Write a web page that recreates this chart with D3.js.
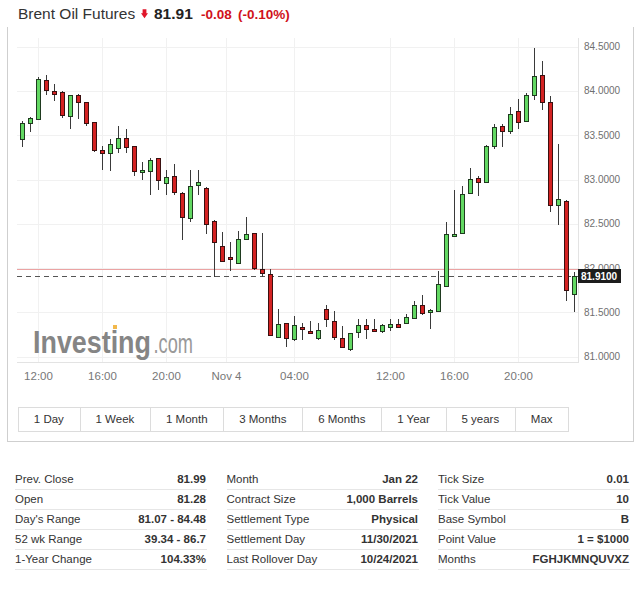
<!DOCTYPE html>
<html>
<head>
<meta charset="utf-8">
<script src="https://cdn.jsdelivr.net/npm/d3@7"></script>
<style>
  html, body { margin: 0; padding: 0; background: #fff; }
  svg { display: block; font-family: "Liberation Sans", Arial, sans-serif; }
</style>
</head>
<body>
<svg id="chart" width="640" height="591"></svg>
<script>
// ---------------- DATA ----------------
const times = [
  "11-03 11:00","11-03 11:30","11-03 12:00","11-03 12:30","11-03 13:00","11-03 13:30","11-03 14:00","11-03 14:30",
  "11-03 15:00","11-03 15:30","11-03 16:00","11-03 16:30","11-03 17:00","11-03 17:30","11-03 18:00","11-03 18:30",
  "11-03 19:00","11-03 19:30","11-03 20:00","11-03 20:30","11-03 21:00","11-03 21:30","11-03 22:00","11-03 22:30",
  "11-03 23:00","11-03 23:30",
  "11-04 00:00","11-04 00:30","11-04 01:00","11-04 01:30","11-04 02:00","11-04 02:30","11-04 03:00","11-04 03:30",
  "11-04 04:00","11-04 04:30","11-04 05:00","11-04 05:30","11-04 06:00","11-04 06:30",
  "11-04 09:00","11-04 09:30","11-04 10:00","11-04 10:30","11-04 11:00","11-04 11:30",
  "11-04 12:00","11-04 12:30","11-04 13:00","11-04 13:30","11-04 14:00","11-04 14:30","11-04 15:00","11-04 15:30",
  "11-04 16:00","11-04 16:30","11-04 17:00","11-04 17:30","11-04 18:00","11-04 18:30","11-04 19:00","11-04 19:30",
  "11-04 20:00","11-04 20:30","11-04 21:00","11-04 21:30","11-04 22:00","11-04 22:30","11-04 23:00","11-04 23:30"
];
const open = [83.46,83.64,83.68,84.12,84.00,83.99,83.72,83.96,83.87,83.65,
  83.33,83.30,83.36,83.47,83.38,83.08,83.10,83.24,82.96,83.04,
  82.85,82.57,82.94,82.90,82.53,82.25,82.13,82.06,82.33,82.40,
  81.99,81.93,81.22,81.38,81.20,81.34,81.29,81.21,81.54,81.40,
  81.21,81.09,81.28,81.36,81.31,81.29,81.34,81.37,81.38,81.44,
  81.58,81.50,81.52,81.80,82.36,82.40,82.85,83.02,82.97,83.38,
  83.60,83.55,83.77,83.66,83.96,84.18,83.87,82.71,82.76,81.71];
const high = [83.66,83.71,84.16,84.18,84.08,84.00,83.96,83.97,83.87,83.65,
  83.38,83.46,83.60,83.57,83.38,83.20,83.24,83.24,83.11,83.18,
  82.86,83.11,83.11,82.92,82.54,82.41,82.29,82.42,82.58,82.40,
  82.40,81.99,81.54,81.38,81.46,81.38,81.40,81.38,81.58,81.52,
  81.35,81.27,81.43,81.43,81.43,81.37,81.42,81.42,81.48,81.63,
  81.70,81.54,81.97,82.52,82.88,82.93,83.13,83.04,83.39,83.63,
  83.63,83.82,83.91,83.98,84.48,84.34,83.94,83.40,82.77,81.96];
const low = [83.37,83.54,83.67,83.96,83.89,83.70,83.57,83.68,83.61,83.31,
  83.11,83.10,83.30,83.30,83.04,83.00,82.83,82.88,82.83,82.83,
  82.32,82.52,82.83,82.39,81.90,82.08,81.97,82.06,82.32,81.98,
  81.90,81.23,81.21,81.11,81.18,81.19,81.26,81.19,81.33,81.19,
  81.10,81.07,81.21,81.20,81.28,81.27,81.29,81.34,81.38,81.42,
  81.47,81.31,81.52,81.80,82.35,82.40,82.84,82.81,82.96,83.34,
  83.37,83.52,83.57,83.66,83.90,83.79,82.63,82.49,81.63,81.50];
const close = [83.64,83.69,84.14,84.01,83.97,83.73,83.95,83.87,83.64,83.33,
  83.30,83.40,83.47,83.37,83.10,83.11,83.22,83.00,83.03,82.86,
  82.58,82.93,82.97,82.50,82.29,82.08,82.10,82.33,82.38,82.00,
  81.94,81.24,81.37,81.21,81.36,81.31,81.27,81.30,81.43,81.22,
  81.11,81.27,81.36,81.31,81.29,81.36,81.37,81.34,81.45,81.58,
  81.49,81.53,81.82,82.38,82.38,82.84,83.01,82.97,83.38,83.59,
  83.55,83.74,83.65,83.95,84.17,83.88,82.71,82.78,81.75,81.91];

const yTicks = [81.0, 81.5, 82.0, 82.5, 83.0, 83.5, 84.0, 84.5];
const xTickTimes  = ["11-03 12:00","11-03 16:00","11-03 20:00","11-04 00:00","11-04 04:00","11-04 12:00","11-04 16:00","11-04 20:00"];
const xTickLabels = ["12:00","16:00","20:00","Nov 4","04:00","12:00","16:00","20:00"];
const dayStartTimes = ["11-04 00:00"];

const lastPrice = 81.91;
const prevClose = 81.99;
const title = "Brent Oil Futures";
const priceText = "81.91";
const changeText = "-0.08";
const changePctText = "(-0.10%)";

const rangeButtons = ["1 Day","1 Week","1 Month","3 Months","6 Months","1 Year","5 years","Max"];

const col1Labels = ["Prev. Close","Open","Day's Range","52 wk Range","1-Year Change"];
const col1Values = ["81.99","81.28","81.07 - 84.48","39.34 - 86.7","104.33%"];
const col2Labels = ["Month","Contract Size","Settlement Type","Settlement Day","Last Rollover Day"];
const col2Values = ["Jan 22","1,000 Barrels","Physical","11/30/2021","10/24/2021"];
const col3Labels = ["Tick Size","Tick Value","Base Symbol","Point Value","Months"];
const col3Values = ["0.01","10","B","1 = $1000","FGHJKMNQUVXZ"];

// ---------------- LAYOUT ----------------
const svg = d3.select("#chart");
const plot = { left: 17, right: 578, top: 38, bottom: 362 };

const x = d3.scaleBand().domain(times).range([18.5, 578.5]).paddingInner(0.375).paddingOuter(0.1875);
const y = d3.scaleLinear().domain([81.0, 84.5]).range([356.7, 46.7]);

svg.append("rect").attr("width", 640).attr("height", 591).attr("fill", "#fff");

// outer box
const box = svg.append("g").attr("stroke", "#cfcfcf").attr("fill", "none").attr("shape-rendering", "crispEdges");
box.append("line").attr("x1", 7.5).attr("x2", 7.5).attr("y1", 27).attr("y2", 441.5);
box.append("line").attr("x1", 633.5).attr("x2", 633.5).attr("y1", 27).attr("y2", 441.5);
box.append("line").attr("x1", 7.5).attr("x2", 633.5).attr("y1", 441.5).attr("y2", 441.5);

// title
svg.append("text").attr("x", 18).attr("y", 18.5).attr("font-size", 15.5).attr("fill", "#333").text(title);
svg.append("path")
  .attr("d", "M142.6,9.3 h3.8 v4.0 h1.6 l-3.5,5.0 l-3.5,-5.0 h1.6 z")
  .attr("fill", "#e0162b");
svg.append("text").attr("x", 154).attr("y", 18.5).attr("font-size", 15.5).attr("font-weight", "bold").attr("fill", "#222").text(priceText);
svg.append("text").attr("x", 201).attr("y", 18.5).attr("font-size", 13.5).attr("font-weight", "bold").attr("fill", "#d0121b").text(changeText);
svg.append("text").attr("x", 238).attr("y", 18.5).attr("font-size", 13.5).attr("font-weight", "bold").attr("fill", "#d0121b").text(changePctText);

// grid
const grid = svg.append("g").attr("shape-rendering", "crispEdges");
grid.selectAll("line.h").data(yTicks).join("line")
  .attr("x1", plot.left).attr("x2", plot.right)
  .attr("y1", d => Math.round(y(d)) + 0.5).attr("y2", d => Math.round(y(d)) + 0.5)
  .attr("stroke", "#f1f1f1");
const tickX = (tm) => dayStartTimes.includes(tm) ? x(tm) - x.step() * x.paddingInner() / 2 : x(tm) + x.bandwidth() / 2;
grid.selectAll("line.v").data(xTickTimes).join("line")
  .attr("x1", d => Math.floor(tickX(d)) + 0.5).attr("x2", d => Math.floor(tickX(d)) + 0.5)
  .attr("y1", plot.top).attr("y2", plot.bottom)
  .attr("stroke", "#f1f1f1");

// watermark: condensed via horizontal scaling
function condensed(txt, x0, w, size, weight, fill) {
  const g = svg.append("g");
  const el = g.append("text").attr("x", 0).attr("y", 0).attr("font-size", size)
    .attr("font-weight", weight).attr("fill", fill).text(txt);
  const nat = el.node().getComputedTextLength();
  g.attr("transform", `translate(${x0},353) scale(${w / nat},1)`);
}
condensed("Investing", 33, 118, 31, "bold", "#858585");
condensed(".com", 153.5, 39.5, 27, "normal", "#999");
svg.append("rect").attr("x", 113).attr("y", 325).attr("width", 4).attr("height", 4).attr("fill", "#f2b84b");

// plot frame (right and bottom)
const frame = svg.append("g").attr("stroke", "#e3e3e3").attr("shape-rendering", "crispEdges");
frame.append("line").attr("x1", plot.right + 0.5).attr("x2", plot.right + 0.5).attr("y1", plot.top).attr("y2", plot.bottom + 0.5);
frame.append("line").attr("x1", plot.left).attr("x2", plot.right + 0.5).attr("y1", plot.bottom + 0.5).attr("y2", plot.bottom + 0.5);

// prev close line and last price dashed line
svg.append("line").attr("x1", plot.left).attr("x2", 620)
  .attr("y1", Math.round(y(prevClose)) + 0.5).attr("y2", Math.round(y(prevClose)) + 0.5)
  .attr("stroke", "#eba3a3").attr("shape-rendering", "crispEdges");
svg.append("line").attr("x1", plot.left).attr("x2", plot.right)
  .attr("y1", Math.round(y(lastPrice)) + 0.5).attr("y2", Math.round(y(lastPrice)) + 0.5)
  .attr("stroke", "#555").attr("stroke-dasharray", "5,4").attr("shape-rendering", "crispEdges");

// candles
const candles = times.map((tm, i) => ({ t: tm, o: open[i], h: high[i], l: low[i], c: close[i] }));
const cg = svg.append("g").attr("shape-rendering", "crispEdges");
const cxOf = d => Math.floor(x(d.t) + x.bandwidth() / 2);
cg.selectAll("line.wick").data(candles).join("line")
  .attr("x1", d => cxOf(d) + 0.5).attr("x2", d => cxOf(d) + 0.5)
  .attr("y1", d => Math.round(y(d.h))).attr("y2", d => Math.round(y(d.l)))
  .attr("stroke", "#3a3a3a");
cg.selectAll("rect.body").data(candles).join("rect")
  .attr("x", d => cxOf(d) - 1.5)
  .attr("width", 4)
  .attr("y", d => Math.round(y(Math.max(d.o, d.c))) + 0.5)
  .attr("height", d => Math.max(1, Math.round(y(Math.min(d.o, d.c))) - Math.round(y(Math.max(d.o, d.c)))))
  .attr("fill", d => d.c >= d.o ? "#62d862" : "#d42222")
  .attr("stroke", d => d.c >= d.o ? "#1f3a1f" : "#3a1010");

// y-axis labels
svg.append("g").selectAll("text").data(yTicks).join("text")
  .attr("x", 584).attr("y", d => y(d)).attr("dy", "0.35em")
  .attr("font-size", 10).attr("fill", "#6f6f6f")
  .text(d => d3.format(".4f")(d));

// last price box
const yl = Math.round(y(lastPrice)) + 0.5;
svg.append("rect").attr("x", 578).attr("y", yl - 7.5).attr("width", 43).attr("height", 14).attr("fill", "#1c1c1c");
svg.append("text").attr("x", 581).attr("y", yl).attr("dy", "0.35em").attr("font-size", 10).attr("font-weight", "bold")
  .attr("fill", "#fff").text(d3.format(".4f")(lastPrice));

// x-axis labels
svg.append("g").selectAll("text").data(xTickTimes).join("text")
  .attr("x", d => tickX(d)).attr("y", 380).attr("text-anchor", "middle")
  .attr("font-size", 11.5).attr("fill", "#777")
  .text((d, i) => xTickLabels[i]);

// range buttons
const bg = svg.append("g");
let bx = 18;
rangeButtons.forEach(lbl => {
  const g = bg.append("g");
  const txt = g.append("text").attr("y", 419).attr("dy", "0.35em").attr("font-size", 11.5)
    .attr("fill", "#333").attr("text-anchor", "middle").text(lbl);
  const w = txt.node().getComputedTextLength() + 31.66;
  g.insert("rect", "text").attr("x", Math.round(bx) + 0.5).attr("y", 407.5)
    .attr("width", Math.round(bx + w) - Math.round(bx)).attr("height", 23.5)
    .attr("fill", "#fff").attr("stroke", "#dcdcdc").attr("shape-rendering", "crispEdges");
  txt.attr("x", bx + w / 2);
  bx += w;
});

// info table
const cols = [
  { labels: col1Labels, values: col1Values, left: 15, right: 206 },
  { labels: col2Labels, values: col2Values, left: 226.5, right: 418 },
  { labels: col3Labels, values: col3Values, left: 438, right: 629 }
];
const tbl = svg.append("g").attr("font-size", 11.5).attr("fill", "#333");
cols.forEach(col => {
  col.labels.forEach((lbl, i) => {
    const cy = 478.5 + i * 20;
    tbl.append("text").attr("x", col.left).attr("y", cy).attr("dy", "0.35em").text(lbl);
    tbl.append("text").attr("x", col.right).attr("y", cy).attr("dy", "0.35em").attr("text-anchor", "end")
      .attr("font-weight", "bold").text(col.values[i]);
    tbl.append("line").attr("x1", col.left).attr("x2", col.right + 1)
      .attr("y1", cy + 11).attr("y2", cy + 11).attr("stroke", "#e6e6e6").attr("shape-rendering", "crispEdges");
  });
});
</script>
</body>
</html>
